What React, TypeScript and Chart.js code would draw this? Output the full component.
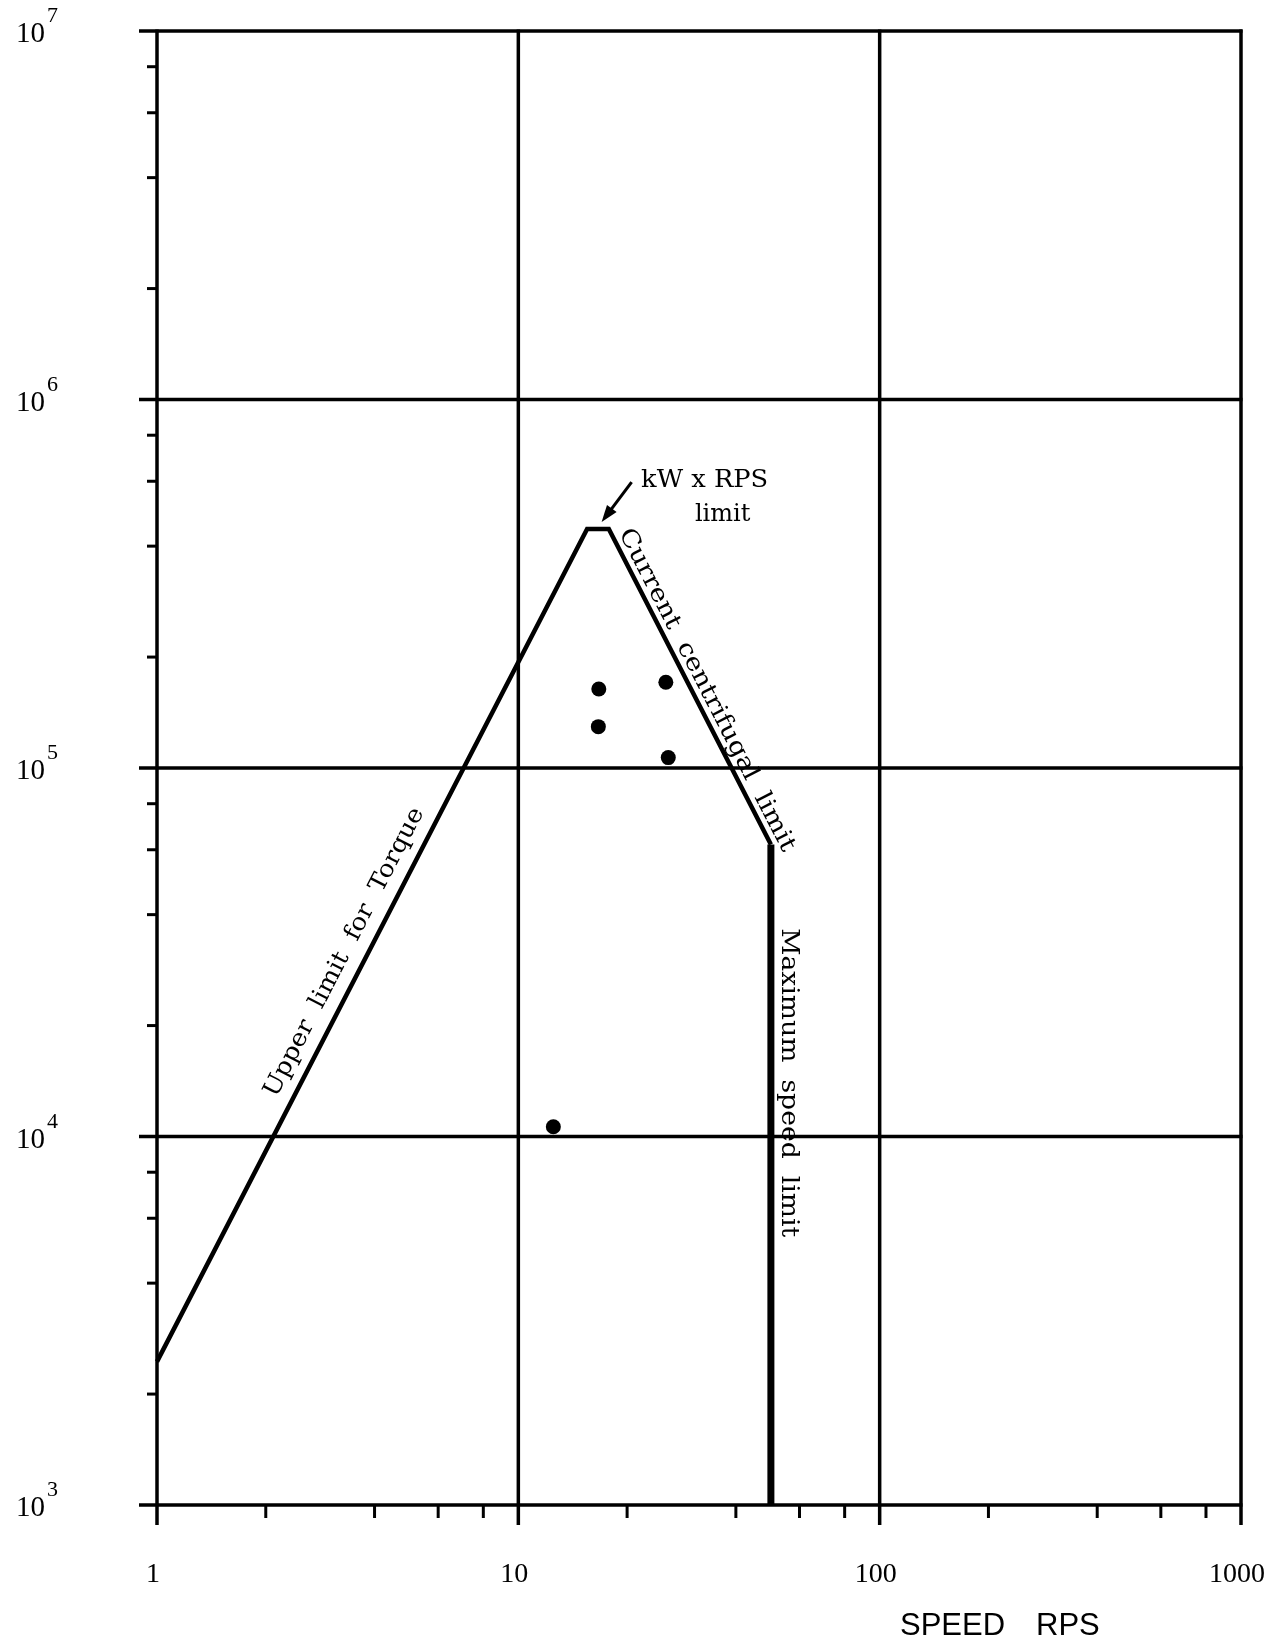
import React, { useEffect, useRef } from "react";
import { Chart, registerables } from "chart.js";

Chart.register(...registerables);

// ---- data ----
const limitSpeed = [1, 15.5, 17.8, 50];
const limitTorque = [2450, 445000, 445000, 62000];
const maxSpeedX = [50, 50];
const maxSpeedY = [62000, 1000];
const testSpeed = [16.7, 16.65, 25.6, 26.0, 12.5];
const testTorque = [163800, 129500, 170900, 106700, 10630];

const xTickValues = [1, 10, 100, 1000];
const xTickLabels = ["1", "10", "100", "1000"];
const yTickValues = [1e3, 1e4, 1e5, 1e6, 1e7];
const yTickExponents = ["3", "4", "5", "6", "7"];
const minorMultipliers = [2, 4, 6, 8];

const SERIF = '"DejaVu Serif", "Liberation Serif", serif';
const TICKFONT = '"Liberation Serif", serif';
const SANS = '"Liberation Sans", Arial, sans-serif';

function drawFitted(
  ctx: CanvasRenderingContext2D,
  text: string,
  font: string,
  cx: number,
  cy: number,
  angle: number,
  targetWidth: number
) {
  ctx.save();
  ctx.translate(cx, cy);
  ctx.rotate(angle);
  ctx.font = font;
  const w = ctx.measureText(text).width;
  ctx.scale(targetWidth / w, 1);
  ctx.textAlign = "center";
  ctx.textBaseline = "alphabetic";
  ctx.fillStyle = "#000";
  ctx.fillText(text, 0, 0);
  ctx.restore();
}

const framePlugin = {
  id: "frame",
  beforeDatasetsDraw(chart: any) {
    const { ctx, chartArea: a, scales } = chart;
    const x = scales.x;
    const y = scales.y;
    ctx.save();
    ctx.strokeStyle = "#000";
    ctx.lineCap = "butt";
    ctx.lineWidth = 3.5;
    for (const v of xTickValues) {
      const px = x.getPixelForValue(v);
      ctx.beginPath();
      ctx.moveTo(px, a.top - 1.5);
      ctx.lineTo(px, a.bottom + 20);
      ctx.stroke();
    }
    for (const v of yTickValues) {
      const py = y.getPixelForValue(v);
      ctx.beginPath();
      ctx.moveTo(a.left - 18, py);
      ctx.lineTo(a.right + 1.5, py);
      ctx.stroke();
    }
    ctx.lineWidth = 3;
    for (let i = 0; i < xTickValues.length - 1; i++) {
      for (const m of minorMultipliers) {
        const px = x.getPixelForValue(xTickValues[i] * m);
        ctx.beginPath();
        ctx.moveTo(px, a.bottom);
        ctx.lineTo(px, a.bottom + 13);
        ctx.stroke();
      }
    }
    for (let i = 0; i < yTickValues.length - 1; i++) {
      for (const m of minorMultipliers) {
        const py = y.getPixelForValue(yTickValues[i] * m);
        ctx.beginPath();
        ctx.moveTo(a.left - 10, py);
        ctx.lineTo(a.left, py);
        ctx.stroke();
      }
    }
    ctx.restore();
  },
  afterDatasetsDraw(chart: any) {
    const { ctx, chartArea: a, scales } = chart;
    const x = scales.x;
    const y = scales.y;
    const pt = (sx: number, ty: number) => ({ x: x.getPixelForValue(sx), y: y.getPixelForValue(ty) });
    ctx.save();
    ctx.fillStyle = "#000";

    // y tick labels 10^n
    yTickValues.forEach((v, i) => {
      const py = y.getPixelForValue(v);
      ctx.font = `29px ${TICKFONT}`;
      ctx.textAlign = "left";
      ctx.textBaseline = "alphabetic";
      const lx = a.left - 141;
      ctx.fillText("10", lx, py + 11);
      const w = ctx.measureText("10").width;
      ctx.font = `22px ${TICKFONT}`;
      ctx.fillText(yTickExponents[i], lx + w + 2, py - 9);
    });

    // x tick labels
    ctx.font = `28px ${TICKFONT}`;
    ctx.textAlign = "center";
    xTickValues.forEach((v, i) => {
      const px = x.getPixelForValue(v);
      ctx.fillText(xTickLabels[i], px - 4, a.bottom + 77);
    });

    // axis title
    ctx.font = `31px ${SANS}`;
    ctx.textAlign = "left";
    ctx.fillText("SPEED", a.right - 341, a.bottom + 130);
    ctx.fillText("RPS", a.right - 205, a.bottom + 130);

    // Upper limit for Torque
    {
      const p0 = pt(limitSpeed[0], limitTorque[0]);
      const p1 = pt(limitSpeed[1], limitTorque[1]);
      const ang = Math.atan2(p1.y - p0.y, p1.x - p0.x);
      const t = 0.48;
      const off = 15;
      const cx = p0.x + (p1.x - p0.x) * t + Math.sin(ang) * off;
      const cy = p0.y + (p1.y - p0.y) * t - Math.cos(ang) * off;
      drawFitted(ctx, "Upper  limit  for  Torque", `24px ${SERIF}`, cx, cy, ang, 322);
    }
    // Current centrifugal limit
    {
      const p0 = pt(limitSpeed[2], limitTorque[2]);
      const p1 = pt(limitSpeed[3], limitTorque[3]);
      const ang = Math.atan2(p1.y - p0.y, p1.x - p0.x);
      const t = 0.53;
      const off = 7;
      const cx = p0.x + (p1.x - p0.x) * t + Math.sin(ang) * off;
      const cy = p0.y + (p1.y - p0.y) * t - Math.cos(ang) * off;
      drawFitted(ctx, "Current  centrifugal  limit", `24px ${SERIF}`, cx, cy, ang, 360);
    }
    // Maximum speed limit
    {
      const p = pt(maxSpeedX[0], 14000);
      drawFitted(ctx, "Maximum  speed  limit", `24px ${SERIF}`, p.x + 11, p.y, Math.PI / 2, 309);
    }
    // kW x RPS limit with arrow
    {
      const tip = pt(17.0, limitTorque[1]);
      const tx = tip.x;
      const ty = tip.y - 7;
      ctx.strokeStyle = "#000";
      ctx.lineWidth = 3;
      const sx = tx + 30;
      const sy = ty - 40;
      ctx.beginPath();
      ctx.moveTo(sx, sy);
      ctx.lineTo(tx + 6, ty - 8);
      ctx.stroke();
      const ang = Math.atan2(ty - sy, tx - sx);
      ctx.beginPath();
      ctx.moveTo(tx, ty);
      ctx.lineTo(tx - 17 * Math.cos(ang) + 6 * Math.sin(ang), ty - 17 * Math.sin(ang) - 6 * Math.cos(ang));
      ctx.lineTo(tx - 17 * Math.cos(ang) - 6 * Math.sin(ang), ty - 17 * Math.sin(ang) + 6 * Math.cos(ang));
      ctx.closePath();
      ctx.fill();
      drawFitted(ctx, "kW x RPS", `24px ${SERIF}`, tx + 103, ty - 35, 0, 127);
      ctx.font = `24px ${SERIF}`;
      ctx.textAlign = "center";
      ctx.fillText("limit", tx + 121, ty - 1);
    }
    ctx.restore();
  },
};

export default function App() {
  const ref = useRef<HTMLCanvasElement | null>(null);
  useEffect(() => {
    if (!ref.current) return;
    const chart = new Chart(ref.current, {
      type: "scatter",
      data: {
        datasets: [
          {
            label: "Limit",
            data: limitSpeed.map((s, i) => ({ x: s, y: limitTorque[i] })),
            showLine: true,
            borderColor: "#000",
            borderWidth: 4.5,
            pointRadius: 0,
            borderJoinStyle: "miter",
            clip: false,
          } as any,
          {
            label: "Max speed",
            data: maxSpeedX.map((s, i) => ({ x: s, y: maxSpeedY[i] })),
            showLine: true,
            borderColor: "#000",
            borderWidth: 7,
            pointRadius: 0,
            borderCapStyle: "butt",
            clip: false,
          } as any,
          {
            label: "Tests",
            data: testSpeed.map((s, i) => ({ x: s, y: testTorque[i] })),
            showLine: false,
            backgroundColor: "#000",
            borderColor: "#000",
            borderWidth: 0,
            pointRadius: 7.5,
          } as any,
        ],
      },
      options: {
        responsive: false,
        animation: false,
        devicePixelRatio: 1,
        layout: { padding: { left: 157, top: 31, right: 33, bottom: 136 } },
        plugins: { legend: { display: false }, tooltip: { enabled: false } },
        scales: {
          x: { type: "logarithmic", min: 1, max: 1000, display: false },
          y: { type: "logarithmic", min: 1000, max: 1e7, display: false },
        },
      },
      plugins: [framePlugin],
    });
    return () => chart.destroy();
  }, []);
  return (
    <div style={{ position: "absolute", left: 0, top: 0, width: 1274, height: 1641, background: "#fff" }}>
      <canvas ref={ref} width={1274} height={1641} style={{ display: "block", width: 1274, height: 1641 }} />
    </div>
  );
}
